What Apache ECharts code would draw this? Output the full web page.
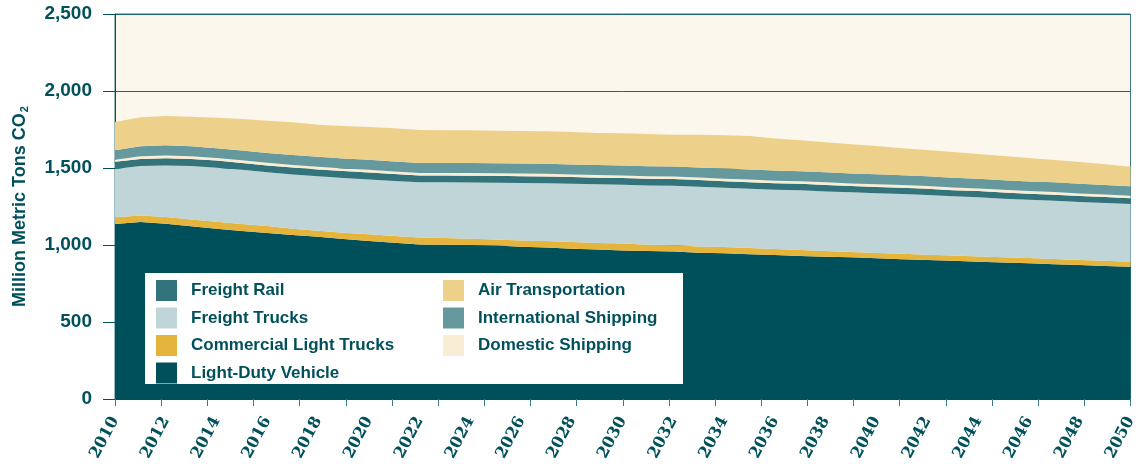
<!DOCTYPE html>
<html>
<head>
<meta charset="utf-8">
<title>Transportation CO2</title>
<script src="https://cdn.jsdelivr.net/npm/echarts@6/dist/echarts.min.js"></script>
<style>
  html, body { margin: 0; padding: 0; background: #ffffff; }
  #chart { width: 1139px; height: 464px; }
</style>
</head>
<body>
<div id="chart"></div>
<script>
// years 2010 - 2050
var years = []
for (var y = 2010; y <= 2050; y++) years.push(String(y))

var yTicks = [0, 500, 1000, 1500, 2000, 2500]

// million metric tons CO2 (stack order bottom -> top)
var lightDuty = [1136, 1150, 1138, 1122, 1106, 1091, 1078, 1065, 1054, 1039,
  1026, 1015, 1004, 1002, 1000, 996, 989, 983, 976, 970,
  965, 961, 957, 950, 946, 940, 935, 929, 924, 920,
  914, 908, 903, 897, 892, 886, 881, 875, 870, 864, 859]
var commercialLight = [44, 42, 44, 44, 45, 46, 45, 41, 39, 41,
  43, 43, 44, 43, 41, 39, 41, 43, 43, 43,
  44, 41, 41, 41, 41, 41, 39, 39, 37, 35,
  34, 35, 34, 35, 34, 34, 34, 34, 33, 34, 33]
var freightTrucks = [314, 321, 335, 347, 351, 351, 349, 352, 353, 355,
  357, 358, 359, 362, 365, 370, 373, 375, 379, 381,
  383, 385, 387, 388, 385, 385, 385, 387, 387, 387,
  388, 388, 388, 384, 384, 381, 379, 379, 376, 375, 374]
var freightRail = [46, 46, 46, 46, 46, 45, 45, 45, 45, 45,
  45, 45, 44, 44, 44, 44, 44, 44, 43, 43,
  43, 43, 43, 43, 42, 42, 42, 42, 42, 41,
  41, 41, 41, 40, 40, 40, 39, 39, 39, 38, 38]
var domesticShipping = [14, 18, 18, 17, 17, 17, 17, 17, 17, 17,
  17, 17, 17, 17, 17, 17, 17, 17, 17, 17,
  17, 17, 17, 17, 17, 17, 17, 17, 17, 17,
  17, 17, 17, 17, 17, 17, 17, 17, 17, 17, 16]
var intlShipping = [62, 65, 66, 65, 64, 64, 64, 64, 65, 65,
  65, 65, 65, 65, 65, 65, 65, 65, 65, 65,
  65, 65, 65, 65, 65, 65, 65, 65, 65, 65,
  65, 64, 64, 64, 63, 63, 63, 63, 62, 62, 62]
var airTransport = [183, 187, 191, 192, 198, 204, 209, 213, 208, 211,
  213, 215, 214, 212, 213, 211, 211, 211, 211, 208,
  208, 209, 206, 212, 216, 218, 209, 201, 195, 189,
  184, 175, 170, 167, 161, 157, 152, 145, 142, 134, 126]

var TEAL = '#00505C'
var labelFont = 'Liberation Sans, Arial, sans-serif'

function areaSeries (name, data, color) {
  return {
    name: name,
    type: 'line',
    stack: 'total',
    data: data,
    symbol: 'none',
    lineStyle: { width: 0 },
    itemStyle: { color: color },
    areaStyle: { color: color, opacity: 1 }
  }
}

var legendText = { color: TEAL, fontWeight: 'bold', fontSize: 17, fontFamily: labelFont, padding: [0, 0, 0, 9] }

var chart = echarts.init(document.getElementById('chart'))

var option = {
  animation: false,
  grid: {
    left: 115,
    right: 8,
    top: 14,
    bottom: 65,
    show: true,
    backgroundColor: '#FBF7EC',
    borderColor: '#3d7a83',
    borderWidth: 1
  },
  legend: [
    {
      orient: 'vertical',
      left: 156,
      top: 280,
      itemWidth: 21,
      itemHeight: 21,
      itemGap: 6.5,
      padding: 0,
      z: 10,
      icon: 'rect',
      selectedMode: false,
      textStyle: legendText,
      data: ['Freight Rail', 'Freight Trucks', 'Commercial Light Trucks', 'Light-Duty Vehicle']
    },
    {
      orient: 'vertical',
      left: 443,
      top: 280,
      itemWidth: 21,
      itemHeight: 21,
      itemGap: 6.5,
      padding: 0,
      z: 10,
      icon: 'rect',
      selectedMode: false,
      textStyle: legendText,
      data: ['Air Transportation', 'International Shipping', 'Domestic Shipping']
    }
  ],
  graphic: [
    {
      type: 'rect',
      z: 5,
      shape: { x: 145, y: 273, width: 538, height: 111 },
      style: { fill: '#ffffff' }
    }
  ],
  xAxis: [
    {
      type: 'category',
      data: years,
      boundaryGap: false,
      axisLine: { show: true, lineStyle: { color: TEAL } },
      axisTick: { show: false },
      axisLabel: {
        interval: 1,
        rotate: 62,
        margin: 19,
        color: TEAL,
        fontWeight: 'bold',
        fontSize: 16,
        fontFamily: 'DejaVu Serif, serif'
      },
      splitLine: { show: false }
    },
    {
      // tick marks only, spaced like the original
      type: 'value',
      position: 'bottom',
      min: 0,
      max: 22,
      interval: 1,
      axisLine: { show: false },
      axisTick: { show: true, length: 7, lineStyle: { color: '#3d7a83' } },
      axisLabel: { show: false },
      splitLine: { show: false }
    }
  ],
  yAxis: {
    type: 'value',
    min: yTicks[0],
    max: yTicks[yTicks.length - 1],
    interval: 500,
    name: 'Million Metric Tons CO{sub|2}',
    nameLocation: 'middle',
    nameGap: 85,
    nameTextStyle: {
      color: TEAL,
      fontWeight: 'bold',
      fontSize: 18,
      fontFamily: labelFont,
      rich: {
        sub: { color: TEAL, fontWeight: 'bold', fontSize: 11, fontFamily: labelFont, verticalAlign: 'bottom', padding: [8, 0, 0, 1] }
      }
    },
    axisLine: { show: true, lineStyle: { color: TEAL } },
    axisTick: { show: true, length: 12, lineStyle: { color: TEAL } },
    axisLabel: {
      margin: 23,
      color: TEAL,
      fontWeight: 'bold',
      fontSize: 19,
      fontFamily: labelFont,
      formatter: function (v) { return v.toLocaleString('en-US') }
    },
    splitLine: { show: true, lineStyle: { color: '#1f6570', width: 1 } }
  },
  series: [
    areaSeries('Light-Duty Vehicle', lightDuty, '#00505C'),
    areaSeries('Commercial Light Trucks', commercialLight, '#E5B43C'),
    areaSeries('Freight Trucks', freightTrucks, '#BFD5D8'),
    areaSeries('Freight Rail', freightRail, '#33737C'),
    areaSeries('Domestic Shipping', domesticShipping, '#F9EDD6'),
    areaSeries('International Shipping', intlShipping, '#66999E'),
    areaSeries('Air Transportation', airTransport, '#EDD18A')
  ]
}

chart.setOption(option)
</script>
</body>
</html>
